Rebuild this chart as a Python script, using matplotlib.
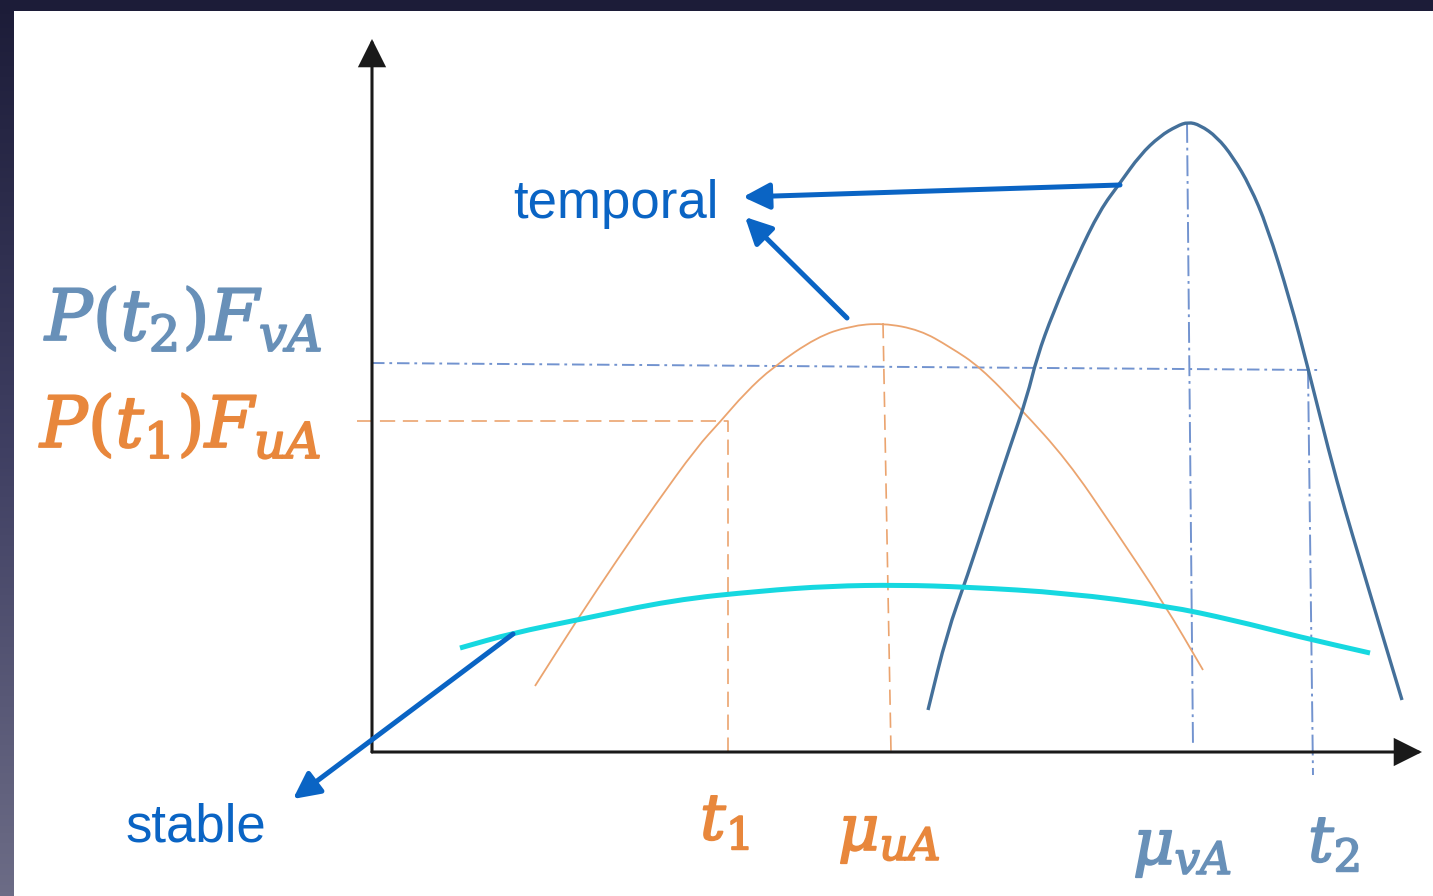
import numpy as np
import matplotlib
matplotlib.use("Agg")
import matplotlib.pyplot as plt
import matplotlib.patheffects as pe
from matplotlib.patches import Rectangle, PathPatch
from matplotlib.path import Path
from matplotlib.colors import LinearSegmentedColormap

plt.rcParams["mathtext.fontset"] = "custom"
plt.rcParams["mathtext.it"] = "DejaVu Serif:italic"
plt.rcParams["mathtext.rm"] = "DejaVu Serif"
plt.rcParams["mathtext.bf"] = "DejaVu Serif:bold"
plt.rcParams["lines.scale_dashes"] = False

# ---- data (schematic pixel space, y grows downward) ----
# steel-blue distribution (v, temporal)
blue_x = [928, 947, 967, 990, 1010, 1027, 1037, 1053, 1077, 1100, 1120, 1140, 1160,
          1177, 1188, 1200, 1217, 1233, 1250, 1267, 1290, 1308, 1329, 1345,
          1360, 1380, 1402]
blue_y = [710, 633, 577, 507, 447, 397, 357, 313, 257, 210, 183, 155, 136,
          126, 122, 125, 137, 157, 186, 226, 300, 368, 452, 510,
          560, 627, 700]
# orange distribution (u, temporal)
orange_x = [535, 577, 617, 655, 697, 720, 745, 773, 817, 850, 883, 920, 950, 980,
            1020, 1067, 1113, 1165, 1203]
orange_y = [686, 620, 560, 505, 447, 422, 393, 367, 337, 326, 323, 330, 347, 367,
            408, 460, 527, 605, 670]
# cyan flat curve (stable)
cyan_x = [460, 513, 577, 673, 760, 830, 900, 967, 1067, 1167, 1233, 1300, 1370]
cyan_y = [648, 633, 620, 600, 591, 586, 585, 587, 593, 606, 620, 637, 653]

origin = (372, 752)
y_axis_tip = (372, 39)
x_axis_tip = (1422, 752)

# orange dashed guides: t1 level and mu_uA
t1_guide_x = [357, 728, 728]
t1_guide_y = [421, 421, 760]
mu_u_guide_x = [883, 891]
mu_u_guide_y = [323, 752]
# blue dash-dot guides: t2 level, mu_vA, t2
t2_level_x = [372, 1318]
t2_level_y = [363, 370]
mu_v_guide_x = [1187, 1193]
mu_v_guide_y = [122, 747]
t2_guide_x = [1308, 1313]
t2_guide_y = [368, 775]

# annotation arrows: (start, tip)
arrows = [((1120, 185), (743, 197)),
          ((847, 318), (745, 217)),
          ((513, 634), (293, 799))]

labels_text = ["temporal", "stable"]
labels_pos = [(513, 218), (125, 842)]

math_labels = [r"$P(t_2)F_{vA}$", r"$P(t_1)F_{uA}$", r"$t_1$", r"$\mu_{uA}$",
               r"$\mu_{vA}$", r"$t_2$"]
math_pos = [(45, 340), (40, 447), (700, 840), (838, 850), (1133, 864), (1308, 862)]
math_size = [51, 51, 46, 46, 46, 46]

C_BLUE = "#44709a"
C_ORANGE = "#eba46f"
C_CYAN = "#16d8e0"
C_ARROW = "#0a64c4"
C_DASHDOT = "#7293cf"
C_LBL_BLUE = "#6890b8"
C_LBL_OR = "#e8873c"


def smooth_path(xs, ys):
    """Quadratic-Bezier path that uses the read points as control points."""
    pts = list(zip(xs, ys))
    verts = [pts[0]]
    codes = [Path.MOVETO]
    mid = lambda a, b: ((a[0] + b[0]) / 2, (a[1] + b[1]) / 2)
    verts.append(mid(pts[0], pts[1]))
    codes.append(Path.LINETO)
    for i in range(1, len(pts) - 1):
        verts += [pts[i], mid(pts[i], pts[i + 1])]
        codes += [Path.CURVE3, Path.CURVE3]
    verts.append(pts[-1])
    codes.append(Path.LINETO)
    return Path(verts, codes)


fig = plt.figure(figsize=(14.33, 8.96), dpi=100)
ax = fig.add_axes([0, 0, 1, 1])

grad = np.linspace(0, 1, 256).reshape(-1, 1)
cmap = LinearSegmentedColormap.from_list("bg", ["#1c1c38", "#3f3f62", "#6c6c86"])
ax.imshow(grad, cmap=cmap, extent=[0, 1433, 896, 0], aspect="auto", zorder=0)
ax.add_patch(Rectangle((14, 11), 1433 - 14, 896 - 11, facecolor="white",
                       edgecolor="none", zorder=1))

# guides
ax.plot(t1_guide_x, t1_guide_y, color=C_ORANGE, lw=1.2, dashes=(11, 5.5), zorder=2)
ax.plot(mu_u_guide_x, mu_u_guide_y, color=C_ORANGE, lw=1.2, dashes=(11, 5.5), zorder=2)
ax.plot(t2_level_x, t2_level_y, color=C_DASHDOT, lw=1.4, dashes=(9, 3.5, 2, 3.5), zorder=2)
ax.plot(mu_v_guide_x, mu_v_guide_y, color=C_DASHDOT, lw=1.4, dashes=(15, 3.5, 2, 3.5), zorder=2)
ax.plot(t2_guide_x, t2_guide_y, color=C_DASHDOT, lw=1.4, dashes=(15, 3.5, 2, 3.5), zorder=2)

# curves
ax.add_patch(PathPatch(smooth_path(orange_x, orange_y), facecolor="none",
                       edgecolor=C_ORANGE, lw=1.3, zorder=3, capstyle="butt"))
ax.add_patch(PathPatch(smooth_path(blue_x, blue_y), facecolor="none",
                       edgecolor=C_BLUE, lw=2.4, zorder=3, capstyle="butt"))
ax.add_patch(PathPatch(smooth_path(cyan_x, cyan_y), facecolor="none",
                       edgecolor=C_CYAN, lw=3.6, zorder=4, capstyle="butt"))

# axes arrows
for tip in (y_axis_tip, x_axis_tip):
    ax.annotate("", xy=tip, xytext=origin,
                arrowprops=dict(arrowstyle="-|>", mutation_scale=42, lw=2.2,
                                color="#1a1a1a", shrinkA=0, shrinkB=0,
                                joinstyle="miter"), zorder=5)

# blue annotation arrows
for start, tip in arrows:
    ax.annotate("", xy=tip, xytext=start,
                arrowprops=dict(arrowstyle="-|>", mutation_scale=40, lw=3.6,
                                color=C_ARROW, shrinkA=0, shrinkB=0), zorder=6)

for s, (x, y) in zip(labels_text, labels_pos):
    ax.text(x, y, s, color=C_ARROW, fontsize=38, family="Liberation Sans",
            ha="left", va="baseline", zorder=7)

for i, (s, (x, y), fs) in enumerate(zip(math_labels, math_pos, math_size)):
    col = C_LBL_BLUE if i in (0, 4, 5) else C_LBL_OR
    ax.text(x, y, s, color=col, fontsize=fs, ha="left", va="baseline", zorder=7,
            path_effects=[pe.withStroke(linewidth=1.3, foreground=col)])

ax.set_xlim(0, 1433)
ax.set_ylim(896, 0)
ax.axis("off")
fig.savefig("out.png", dpi=100)
